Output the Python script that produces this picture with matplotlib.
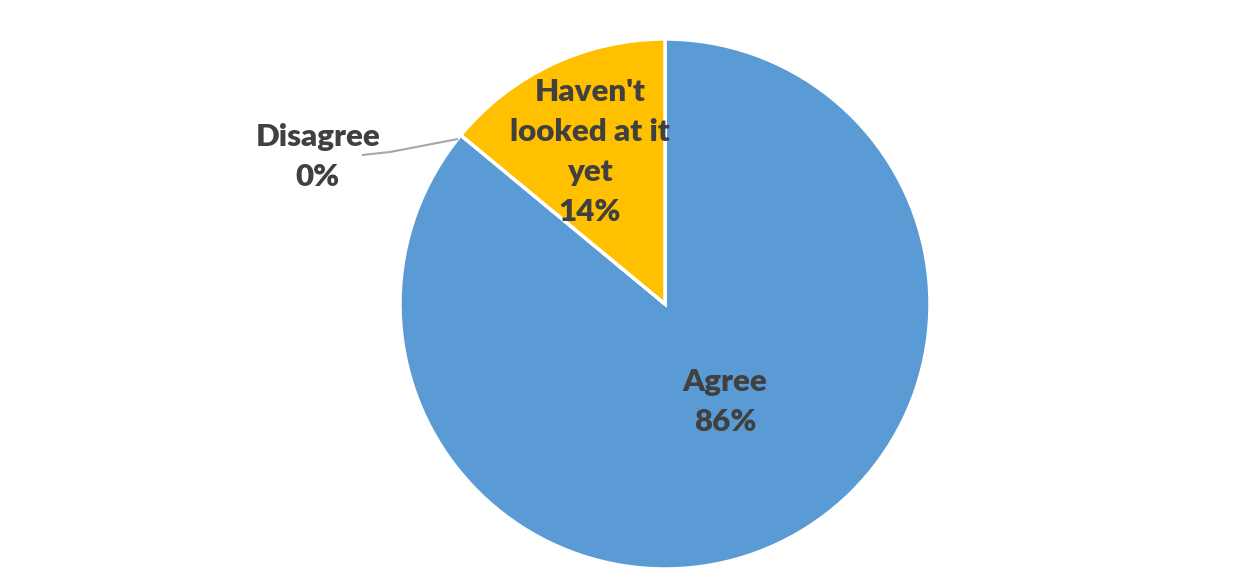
import matplotlib
matplotlib.use("Agg")
import matplotlib.pyplot as plt

categories = ["Agree", "Disagree", "Haven't\nlooked at it\nyet"]
values = [86, 0, 14]
colors = ["#5B9BD5", "#A5A5A5", "#FFC000"]

W, H = 1242, 568
fig = plt.figure(figsize=(W / 100, H / 100), dpi=100)
ax = fig.add_axes([0, 0, 1, 1])

cx, cy, r = 665, H - 304, 265
wedges, _ = ax.pie(values, colors=colors, startangle=90, counterclock=False,
                   center=(cx, cy), radius=r, frame=True,
                   wedgeprops=dict(edgecolor="white", linewidth=2.5))
ax.set_xlim(0, W)
ax.set_ylim(0, H)
ax.set_aspect("equal")
ax.axis("off")

txt = dict(fontsize=22.5, fontweight="heavy", color="#404040", ha="center",
           va="center", family=["Lato", "DejaVu Sans"], linespacing=1.53)

# label positions (pixels from top)
pos = {0: (725, 402), 1: (318, 157), 2: (590, 152)}
for i, (c, v) in enumerate(zip(categories, values)):
    x, y = pos[i]
    ax.text(x, H - y, f"{c}\n{v}%", **txt)

# leader line for Disagree
ax.plot([458, 390, 362], [H - 139, H - 152, H - 155], color="#A6A6A6", lw=1.5,
        solid_capstyle="butt")

fig.savefig("out.png", dpi=100)
